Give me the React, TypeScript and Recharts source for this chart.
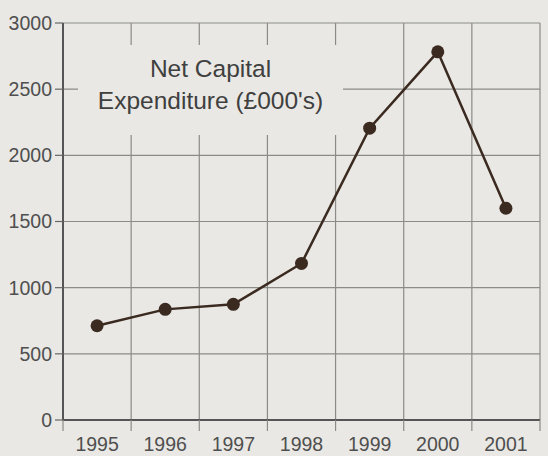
import { CartesianGrid, Line, LineChart, XAxis, YAxis } from "recharts";

const years = ["1995", "1996", "1997", "1998", "1999", "2000", "2001"];
const expenditure = [712, 836, 874, 1183, 2205, 2782, 1600];
const yTicks = [0, 500, 1000, 1500, 2000, 2500, 3000];

const data = years.map((year, i) => ({ pos: i, year, value: expenditure[i] }));
// category centres and the edges between them
const centres = years.map((_, i) => i);
const edges = [...years.map((_, i) => i - 0.5), years.length - 0.5];
const xDomain = [-0.5, years.length - 0.5];

const bg = "#e9e8e4";
const ink = "#3b2a20";
const grid = "#8c8b87";
const font = "'Liberation Sans', Arial, sans-serif";

const App = () => {
  return (
    <div style={{ position: "relative", width: 548, height: 456, background: bg, fontFamily: font }}>
      <style>{`body{margin:0}`}</style>
      <LineChart width={548} height={456} data={data} margin={{ top: 23, right: 8, left: 0, bottom: 0 }}>
        <CartesianGrid xAxisId="edges" stroke={grid} strokeWidth={1.2} />
        <XAxis
          xAxisId="edges"
          type="number"
          dataKey="pos"
          domain={xDomain}
          ticks={edges}
          tick={() => <g />}
          tickSize={11}
          tickLine={{ stroke: grid, strokeWidth: 1.2 }}
          axisLine={{ stroke: "#555", strokeWidth: 2 }}
          height={1}
        />
        <XAxis
          xAxisId="labels"
          type="number"
          dataKey="pos"
          domain={xDomain}
          ticks={centres}
          tickFormatter={(i: number) => years[i]}
          tickLine={false}
          axisLine={false}
          height={35}
          tickMargin={10}
          tick={{ fontSize: 19.5, fill: "#4f4f4f", fontFamily: font }}
        />
        <YAxis
          domain={[0, 3000]}
          ticks={yTicks}
          width={63}
          tickSize={8}
          tickMargin={3}
          tickLine={{ stroke: "#666", strokeWidth: 1.2 }}
          axisLine={{ stroke: "#555", strokeWidth: 2 }}
          tick={{ fontSize: 19.5, fill: "#4f4f4f", fontFamily: font }}
        />
        <Line
          xAxisId="labels"
          type="linear"
          dataKey="value"
          stroke={ink}
          strokeWidth={2.5}
          dot={{ r: 6.5, fill: ink, stroke: ink, strokeWidth: 0 }}
          isAnimationActive={false}
        />
      </LineChart>
      <div
        style={{
          position: "absolute",
          left: 78,
          top: 45,
          width: 265,
          height: 90,
          background: bg,
          color: "#3f3f3f",
          fontSize: 24.5,
          lineHeight: "32px",
          textAlign: "center",
          paddingTop: 8,
          boxSizing: "border-box",
        }}
      >
        Net Capital
        <br />
        Expenditure (£000's)
      </div>
    </div>
  );
};

export default App;
